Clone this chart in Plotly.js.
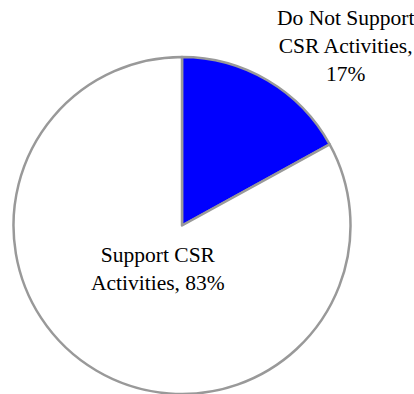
<!DOCTYPE html>
<html>
<head>
<meta charset="utf-8">
<script src="https://cdn.plot.ly/plotly-3.0.1.min.js"></script>
<style>html,body{margin:0;padding:0;background:#fff;}</style>
</head>
<body>
<div id="chart" style="width:414px;height:394px;"></div>
<script>
var labels = ['Do Not Support CSR Activities', 'Support CSR Activities'];
var values = [17, 83];
var colors = ['#0000FF', '#FFFFFF'];
var labelText = ['Do Not Support<br>CSR Activities,<br>17%', 'Support CSR<br>Activities, 83%'];
var labelPos = [[0.834, 0.882], [0.382, 0.318]];

var trace = {
  type: 'pie',
  labels: labels,
  values: values,
  sort: false,
  direction: 'clockwise',
  rotation: 0,
  marker: {colors: colors, line: {color: '#999999', width: 2.5}},
  textinfo: 'none',
  hoverinfo: 'label+percent',
  showlegend: false,
  domain: {x: [13/414, 351/414], y: [0, 337/394]}
};

var annotations = labelText.map(function (t, i) {
  return {
    text: t, xref: 'paper', yref: 'paper',
    x: labelPos[i][0], y: labelPos[i][1],
    xanchor: 'center', yanchor: 'middle', showarrow: false, align: 'center',
    font: {family: 'Times New Roman, Liberation Serif, serif', size: 21.5, color: '#000'}
  };
});

Plotly.newPlot('chart', [trace], {
  width: 414, height: 394,
  margin: {l: 0, r: 0, t: 0, b: 0},
  paper_bgcolor: '#fff',
  annotations: annotations
}, {displayModeBar: false, staticPlot: true});
</script>
</body>
</html>
